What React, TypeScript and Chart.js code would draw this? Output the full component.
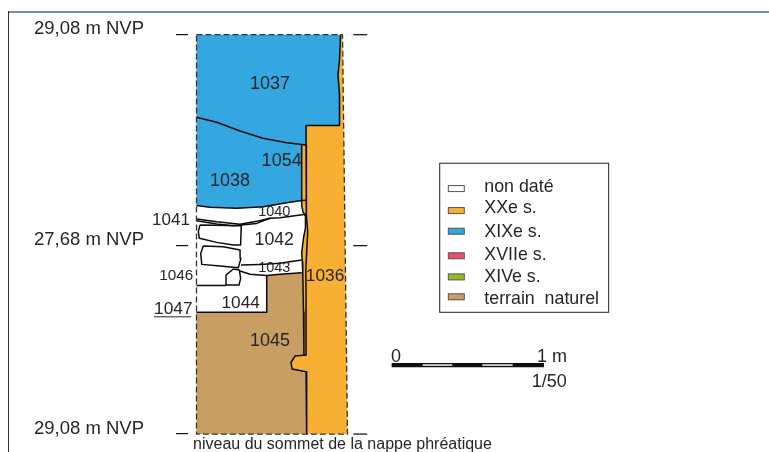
import React, { useEffect, useRef } from "react";
import { Chart, registerables } from "chart.js";

Chart.register(...registerables);

type P = [number, number];

// All outlines: [cm from the left edge of the section, cm below the top datum]
const datumDepths = [0, 140, 265];
const datumLabels = ["29,08 m NVP", "27,68 m NVP", "29,08 m NVP"];

const layer1037: P[] = [[0, 0], [95.6, 0], [94.9, 16.8], [93.9, 26.7], [94.9, 40], [94.9, 60.3], [72.7, 60.3], [72.7, 73.2], [59.9, 71.7], [44.1, 68.7], [28.9, 63.9], [13.4, 58.1], [0, 54.8]];
const layer1038: P[] = [[0, 54.8], [13.4, 58.1], [28.9, 63.9], [44.1, 68.7], [59.9, 71.7], [69.8, 73], [69.8, 110], [59.9, 111.5], [44.3, 114.1], [26.7, 115.2], [9, 114.5], [0, 113.3]];
const layer1036: P[] = [[95.6, 0], [94.9, 16.8], [93.9, 26.7], [94.9, 40], [94.9, 60.3], [72.7, 60.3], [72.7, 73.2], [69.8, 73.2], [69.8, 113.7], [70.7, 117.7], [72.3, 120.3], [72.3, 128.3], [71, 134.9], [69.8, 144.9], [70.2, 150.8], [70.5, 158.1], [71, 184], [71.3, 212.6], [65.4, 213.2], [62.7, 217.5], [63.4, 221.8], [72.7, 223.6], [73.1, 265], [100.2, 265], [96.9, 0]];
const layer1045: P[] = [[0, 184.2], [46.6, 184.2], [46.6, 159.8], [55.4, 159], [69.8, 157.9], [70.5, 158.1], [71, 184], [71.3, 212.6], [65.4, 213.2], [62.7, 217.5], [63.4, 221.8], [72.7, 223.6], [73.1, 265], [0, 265]];

const sectionOutline: P[] = [[0, 0], [96.9, 0], [100.2, 265], [0, 265], [0, 0]];
const cut1037Edge: P[] = [[95.6, 0], [94.9, 16.8], [93.9, 26.7], [94.9, 40], [94.9, 60.3], [72.7, 60.3], [72.7, 73.2]];
const contact1037: P[] = [[0, 54.8], [13.4, 58.1], [28.9, 63.9], [44.1, 68.7], [59.9, 71.7], [72.7, 73.2]];
const contact1038: P[] = [[0, 113.3], [9, 114.5], [26.7, 115.2], [44.3, 114.1], [59.9, 111.5], [69.8, 110], [72.7, 109.9]];
const strip1054: P[] = [[69.8, 73.2], [69.8, 113.7], [70.7, 117.7], [72.3, 120.3], [72.3, 128.3], [71, 134.9], [69.8, 144.9], [70.2, 150.8], [70.5, 158.1], [71, 184], [71.3, 212.6], [72.7, 212.6]];
const cut1036: P[] = [[72.7, 73.2], [72.7, 106.4], [73.1, 119.6], [73.8, 130.9], [73.1, 144.2], [72.5, 157.5], [72.7, 172.7], [72.7, 212.6], [65.4, 213.2], [62.7, 217.5], [63.4, 221.8], [72.7, 223.6], [73.1, 265]];
const lens1041Top: P[] = [[0.1, 122.3], [13.4, 124.1], [28.9, 125.8], [41, 123.6], [48.8, 121.8], [55.4, 121.4], [72.5, 119.2]];
const lens1041Base: P[] = [[0.1, 123.4], [13.4, 125.6], [24.2, 126.7], [39.9, 125.2], [48.8, 121.8]];
const stoneA: P[] = [[2.3, 126.3], [1.2, 130.7], [1.9, 135.1], [13.4, 137.8], [24.4, 139.6], [29.3, 139.6], [29.7, 126.7], [2.3, 126.3]];
const stoneB: P[] = [[4.5, 140.2], [2.8, 145.1], [3.5, 152.4], [15.6, 153.5], [27.7, 154.6], [29.5, 148.4], [28.9, 142.9], [17.8, 140.7], [4.5, 140.2]];
const stoneC: P[] = [[24.4, 155.5], [19.6, 159.5], [19.6, 166.1], [28.2, 166.1], [29.3, 161.7], [28.4, 156.1], [24.4, 155.5]];
const layer1043Top: P[] = [[29.5, 152.8], [42.1, 152.4], [55.4, 151.7], [69.8, 149.5]];
const layer1043Base: P[] = [[28.9, 156.8], [35.5, 159], [46.6, 159.8], [55.4, 159], [69.8, 157.9]];
const layer1044Edge: P[] = [[46.6, 159.8], [46.6, 184.2], [0, 184.2]];
const layer1046Base: P[] = [[0, 166.4], [19.6, 166.4]];

const rightTickSpan = [104.05, 113.3];

const scaleBarStops = [129.5, 150.1, 169.7, 189.7, 209.8, 230.6];
const scaleBarDepth = 219.2;

const layerLabels = ["1037", "1054", "1038", "1041", "1040", "1042", "1043", "1046", "1036", "1044", "1047", "1045"];
const layerLabelX = [48.8, 56.5, 22.2, -16.9, 51.6, 51.6, 51.6, -13.4, 85.3, 29.3, -15.4, 48.8];
const layerLabelDepth = [32.3, 83.1, 96.4, 122.3, 117, 135.8, 154, 159, 159.7, 177.8, 181.6, 202.6];
const layerLabelSize = [18, 18, 18, 17, 14.5, 17.7, 14.5, 15.3, 17.3, 17.3, 17.3, 18];

const legendLabels = ["non daté", "XXe s.", "XIXe s.", "XVIIe s.", "XIVe s.", "terrain  naturel"];
const legendColors = ["#ffffff", "#f7b033", "#34a7e0", "#ee4f6c", "#8fbe1e", "#c89e63"];
const legendSwatchDepth = [102.1, 116.7, 130.4, 146.7, 160.7, 173.9];
const legendTextDepth = [100.2, 114.5, 130.3, 145.7, 160.1, 174.5];

const footnote = "niveau du sommet de la nappe phréatique";

const FONT = '"Liberation Sans", Arial, sans-serif';
const INK = "#262626";
const BASELINE_NUDGE = 1;

const pts = (a: P[]) => a.map(([x, y]) => ({ x, y }));

const line = (a: P[], extra: object = {}) => ({
  data: pts(a),
  showLine: true,
  pointRadius: 0,
  borderColor: "#0a0a0a",
  borderWidth: 1.5,
  borderJoinStyle: "round",
  tension: 0,
  ...extra,
});

const area = (a: P[], color: string) => ({
  data: pts(a),
  showLine: false,
  pointRadius: 0,
  areaColor: color,
});

const sectionPlugin = {
  id: "section",
  beforeDatasetsDraw(chart: any) {
    const ctx = chart.ctx;
    ctx.save();
    chart.data.datasets.forEach((ds: any, i: number) => {
      if (!ds.areaColor) return;
      const items = chart.getDatasetMeta(i).data;
      ctx.beginPath();
      items.forEach((p: any, k: number) => (k ? ctx.lineTo(p.x, p.y) : ctx.moveTo(p.x, p.y)));
      ctx.closePath();
      ctx.fillStyle = ds.areaColor;
      ctx.fill();
    });
    ctx.restore();
  },
  afterDatasetsDraw(chart: any) {
    const { ctx, scales } = chart;
    const X = (v: number) => scales.x.getPixelForValue(v);
    const Y = (v: number) => scales.y.getPixelForValue(v);
    const T = (v: number) => Y(v) + BASELINE_NUDGE;
    ctx.save();
    ctx.textBaseline = "middle";
    ctx.fillStyle = INK;

    layerLabels.forEach((t, i) => {
      ctx.font = `${layerLabelSize[i]}px ${FONT}`;
      ctx.textAlign = "center";
      ctx.fillText(t, X(layerLabelX[i]), T(layerLabelDepth[i]));
    });
    // underline of 1047
    ctx.strokeStyle = INK;
    ctx.lineWidth = 1;
    ctx.beginPath();
    ctx.moveTo(X(-28.2), Y(187.2));
    ctx.lineTo(X(-3.4), Y(187.2));
    ctx.stroke();

    // legend box
    const left = X(161.4), right = X(273.5), top = Y(85.3), bottom = Y(184.2);
    ctx.strokeStyle = "#222";
    ctx.lineWidth = 1;
    ctx.strokeRect(left, top, right - left, bottom - top);
    legendLabels.forEach((t, i) => {
      const sy = Y(legendSwatchDepth[i]);
      ctx.fillStyle = legendColors[i];
      ctx.fillRect(X(167.1), sy - 3, X(177.7) - X(167.1), 6);
      ctx.strokeStyle = "#555";
      ctx.strokeRect(X(167.1), sy - 3, X(177.7) - X(167.1), 6);
      ctx.fillStyle = INK;
      ctx.font = `17.8px ${FONT}`;
      ctx.textAlign = "left";
      ctx.fillText(t, X(191), T(legendTextDepth[i]));
    });

    // scale bar captions
    ctx.font = `18px ${FONT}`;
    ctx.textAlign = "center";
    ctx.fillText("0", X(132.4), T(213.2));
    ctx.fillText("1 m", X(235.9), T(213));
    ctx.fillText("1/50", X(234.1), T(229.6));

    // footnote
    ctx.font = `16px ${FONT}`;
    ctx.textAlign = "left";
    ctx.fillText(footnote, X(-2.3), T(271));
    ctx.restore();
  },
};

export default function App() {
  const ref = useRef<HTMLCanvasElement>(null);

  useEffect(() => {
    const datasets: any[] = [
      line(sectionOutline, { borderDash: [6, 3], borderColor: "#333", borderWidth: 1.3 }),
      line(cut1037Edge),
      line(contact1037),
      line(contact1038),
      line(strip1054),
      line(cut1036),
      line(lens1041Top),
      line(lens1041Base),
      line(stoneA),
      line(stoneB),
      line(stoneC),
      line(layer1043Top),
      line(layer1043Base),
      line(layer1044Edge),
      line(layer1046Base),
      ...datumDepths.map((d) =>
        line([[rightTickSpan[0], d], [rightTickSpan[1], d]], { borderWidth: 1.2 })
      ),
      line([[scaleBarStops[1], scaleBarDepth], [scaleBarStops[2], scaleBarDepth]], { borderColor: "#e8e8e8", borderWidth: 1.6 }),
      line([[scaleBarStops[3], scaleBarDepth], [scaleBarStops[4], scaleBarDepth]], { borderColor: "#e8e8e8", borderWidth: 1.6 }),
      line([[scaleBarStops[0], scaleBarDepth], [scaleBarStops[5], scaleBarDepth]], { borderWidth: 4.2, borderColor: "#111" }),
      area(layer1037, "#34a7e0"),
      area(layer1038, "#34a7e0"),
      area(layer1036, "#f7b033"),
      area(layer1045, "#c89e63"),
    ];

    const chart = new Chart(ref.current!, {
      type: "scatter",
      data: { datasets },
      plugins: [sectionPlugin],
      options: {
        animation: false,
        responsive: false,
        devicePixelRatio: 1,
        layout: { padding: 0 },
        plugins: { legend: { display: false }, tooltip: { enabled: false } },
        scales: {
          x: { type: "linear", display: false, min: -5.64, max: 379.9 },
          y: {
            type: "linear",
            reverse: true,
            min: -23.03,
            max: 276.9,
            afterBuildTicks(s: any) {
              s.ticks = datumDepths.map((value) => ({ value }));
            },
            afterFit(s: any) {
              s.width = 188;
              s.paddingTop = 0;
              s.paddingBottom = 0;
            },
            border: { display: false },
            grid: {
              drawOnChartArea: false,
              drawTicks: true,
              tickLength: 12,
              color: "#111",
              lineWidth: 1.2,
            },
            ticks: {
              padding: 32,
              labelOffset: -5.5,
              color: INK,
              font: { family: FONT, size: 18.5 },
              autoSkip: false,
              callback(v: any) {
                const i = datumDepths.indexOf(Number(v));
                return i >= 0 ? datumLabels[i] : "";
              },
            },
          },
        },
      } as any,
    } as any);
    return () => chart.destroy();
  }, []);

  return (
    <div style={{ position: "absolute", left: 0, top: 0, width: 769, height: 452, background: "#fff", overflow: "hidden" }}>
      <canvas ref={ref} width={769} height={452} style={{ position: "absolute", left: 0, top: 0, display: "block" }} />
      <div style={{ position: "absolute", left: 8, top: 11, right: 0, height: 2, background: "#7b909b" }} />
      <div style={{ position: "absolute", left: 8, top: 11, bottom: 0, width: 1, background: "#1d3640" }} />
    </div>
  );
}
